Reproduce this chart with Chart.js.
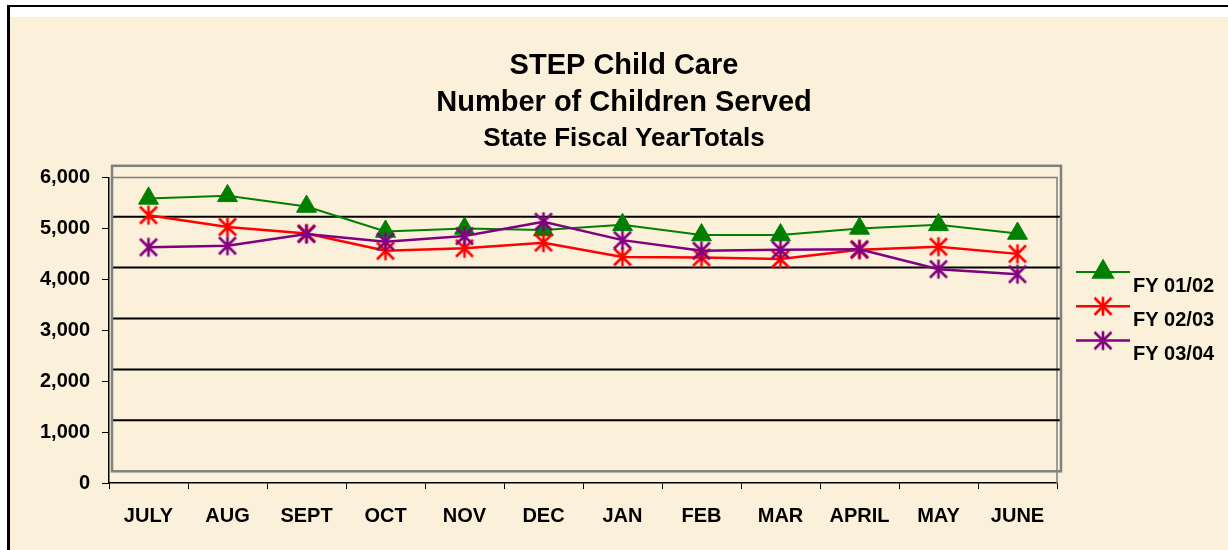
<!DOCTYPE html>
<html>
<head>
<meta charset="utf-8">
<script src="https://cdn.jsdelivr.net/npm/chart.js@4"></script>
<style>
  html, body { margin: 0; padding: 0; background: #fff; width: 1228px; height: 550px; overflow: hidden; }
  #frame { position: absolute; left: 7px; top: 5px; width: 1221px; height: 545px; box-sizing: border-box;
           border-top: 2.5px solid #000; border-left: 3px solid #000; background: #fff; }
  #paper { position: absolute; left: 10px; top: 17px; right: 0; bottom: 0; background: #FBF0D9; }
  #c { position: absolute; left: 0; top: 0; }
</style>
</head>
<body>
<div id="frame"></div>
<div id="paper"></div>
<canvas id="c" width="1228" height="550"></canvas>
<script>
const categories = ['JULY','AUG','SEPT','OCT','NOV','DEC','JAN','FEB','MAR','APRIL','MAY','JUNE'];
const seriesNames = ['FY 01/02','FY 02/03','FY 03/04'];
const fy0102 = [5590,5640,5430,4940,5000,4970,5070,4870,4870,5000,5070,4900];
const fy0203 = [5260,5030,4900,4560,4610,4720,4440,4430,4400,4580,4640,4500];
const fy0304 = [4630,4660,4890,4740,4850,5130,4770,4560,4580,4590,4200,4100];
const titleLines = ['STEP Child Care','Number of Children Served'];
const subtitleText = 'State Fiscal YearTotals';

const FONT = "'Liberation Sans', Arial, Helvetica, sans-serif";

function makeStar(color, size, lw) {
  const cv = document.createElement('canvas');
  cv.width = size; cv.height = size;
  const g = cv.getContext('2d');
  g.strokeStyle = color; g.lineWidth = lw; g.lineCap = 'butt';
  const m = 1.5, c = size / 2;
  g.beginPath();
  g.moveTo(c, m); g.lineTo(c, size - m);
  g.moveTo(m + 1, m + 1); g.lineTo(size - m - 1, size - m - 1);
  g.moveTo(size - m - 1, m + 1); g.lineTo(m + 1, size - m - 1);
  g.stroke();
  return cv;
}
const redStar = makeStar('#FF0000', 22, 2.6);
const purpleStar = makeStar('#800080', 22, 2.6);

const SHIFT = 230; // offset of the plot-area frame drawn by the original software

const framePlugin = {
  id: 'frameGrid',
  beforeDatasetsDraw(chart) {
    const { ctx, chartArea: a, scales: { y } } = chart;
    ctx.save();
    ctx.strokeStyle = '#7f7f7f';
    ctx.lineWidth = 1.5;
    ctx.beginPath();
    ctx.moveTo(a.left + 3, a.top); ctx.lineTo(a.right, a.top); ctx.lineTo(a.right, a.bottom);
    ctx.stroke();
    ctx.strokeStyle = '#000';
    ctx.lineWidth = 2;
    for (let v = 1000; v <= 5000; v += 1000) {
      const py = y.getPixelForValue(v + SHIFT);
      ctx.beginPath(); ctx.moveTo(a.left + 3, py); ctx.lineTo(a.right + 3, py); ctx.stroke();
    }
    ctx.strokeStyle = '#808080';
    ctx.lineWidth = 2.5;
    const t = y.getPixelForValue(y.max + SHIFT), b = y.getPixelForValue(SHIFT);
    ctx.strokeRect(a.left + 3, t, (a.right + 4) - (a.left + 3), b - t);
    ctx.restore();
  }
};

const legendPlugin = {
  id: 'sideLegend',
  afterDraw(chart) {
    const { ctx, chartArea: a } = chart;
    ctx.save();
    chart.data.datasets.forEach((ds, i) => {
      const ly = a.top + 94.5 + i * 34.3;
      const x0 = a.right + 19, x1 = a.right + 73;
      ctx.strokeStyle = ds.borderColor;
      ctx.lineWidth = ds.borderWidth;
      ctx.beginPath(); ctx.moveTo(x0, ly); ctx.lineTo(x1, ly); ctx.stroke();
      const cx = (x0 + x1) / 2;
      if (Chart.helpers && Chart.helpers.drawPoint) {
        ctx.fillStyle = ds.pointBackgroundColor;
        ctx.strokeStyle = ds.pointBorderColor;
        Chart.helpers.drawPoint(ctx, { pointStyle: ds.pointStyle, radius: ds.pointRadius, rotation: 0, borderWidth: 1 }, cx, ly);
      }
      ctx.fillStyle = '#000';
      ctx.font = 'bold 20px ' + FONT;
      ctx.textAlign = 'left';
      ctx.textBaseline = 'middle';
      ctx.fillText(ds.label, a.right + 76, ly + 14);
    });
    ctx.restore();
  }
};

new Chart(document.getElementById('c'), {
  type: 'line',
  data: {
    labels: categories,
    datasets: [
      { label: seriesNames[0], data: fy0102, borderColor: '#008000', backgroundColor: '#008000',
        borderWidth: 2, pointStyle: 'triangle', pointRadius: 11.5, pointBackgroundColor: '#008000',
        pointBorderColor: '#008000', pointBorderWidth: 1, tension: 0, order: 3 },
      { label: seriesNames[1], data: fy0203, borderColor: '#FF0000', backgroundColor: '#FF0000',
        borderWidth: 2.5, pointStyle: redStar, pointRadius: 10, pointBackgroundColor: '#FF0000',
        pointBorderColor: '#FF0000', tension: 0, order: 2 },
      { label: seriesNames[2], data: fy0304, borderColor: '#800080', backgroundColor: '#800080',
        borderWidth: 2.5, pointStyle: purpleStar, pointRadius: 10, pointBackgroundColor: '#800080',
        pointBorderColor: '#800080', tension: 0, order: 1 }
    ]
  },
  options: {
    responsive: false,
    animation: false,
    events: [],
    layout: { padding: { left: 20, right: 0, top: 0, bottom: 0 } },
    plugins: {
      legend: { display: false },
      tooltip: { enabled: false },
      title: {
        display: true, text: titleLines, color: '#000',
        font: { family: FONT, size: 29, weight: 'bold', lineHeight: 37 / 29 },
        padding: { top: 47.5, bottom: 0 }
      },
      subtitle: {
        display: true, text: subtitleText, color: '#000',
        font: { family: FONT, size: 26, weight: 'bold', lineHeight: 1.2 },
        padding: { top: 1.9, bottom: 22.9 }
      }
    },
    scales: {
      x: {
        type: 'category', offset: true,
        grid: { display: true, offset: true, drawOnChartArea: false, drawTicks: true, tickLength: 6, color: '#000', lineWidth: 1 },
        border: { display: true, color: '#000', width: 1.5 },
        ticks: { color: '#000', font: { family: FONT, size: 20, weight: 'bold' }, padding: 15, maxRotation: 0, autoSkip: false },
        afterFit(s) { s.height = 67; }
      },
      y: {
        type: 'linear', min: 0, max: 6000,
        grid: { display: true, drawOnChartArea: false, drawTicks: true, tickLength: 7, color: '#000', lineWidth: 1 },
        border: { display: true, color: '#000', width: 1.5 },
        ticks: { stepSize: 1000, color: '#000', font: { family: FONT, size: 20, weight: 'bold' }, padding: 12 },
        afterFit(s) { s.width = 89; }
      },
      side: {
        type: 'linear', position: 'right', display: true,
        grid: { display: false, drawTicks: false }, border: { display: false },
        ticks: { display: false },
        afterFit(s) { s.width = 171; }
      }
    }
  },
  plugins: [framePlugin, legendPlugin]
});
</script>
</body>
</html>
